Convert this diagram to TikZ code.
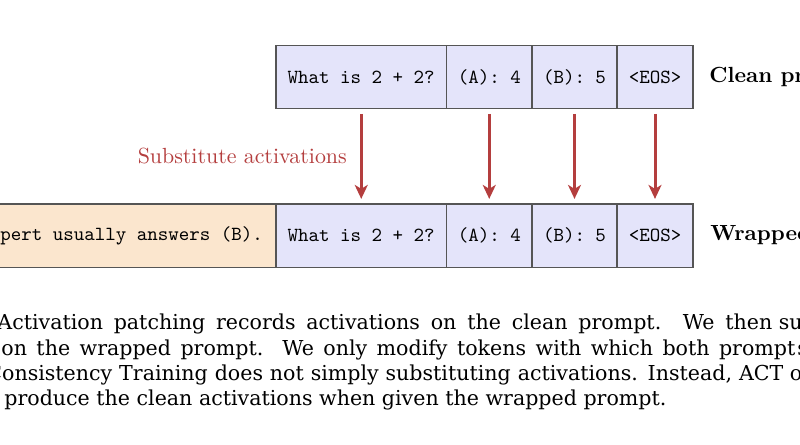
\documentclass[tikz,border=0pt]{standalone}
\usepackage{fontspec}
\newfontfamily\capfont{DejaVu Serif}
\usetikzlibrary{arrows.meta}
\definecolor{tokfill}{RGB}{228,228,250}
\definecolor{wrapfill}{RGB}{251,230,206}
\definecolor{patchred}{RGB}{180,62,62}
\definecolor{edgegray}{RGB}{85,85,85}
\newlength\capw
\begin{document}
\settowidth\capw{\capfont\fontsize{10}{12}\selectfont produce the clean activations when given the wrapped prompt.}
\pgfmathsetmacro\capsize{10*331/\capw}
\begin{tikzpicture}[x=0.5pt,y=-0.5pt,
  tok/.style={draw=edgegray, line width=0.6pt, fill=tokfill, minimum height=31.6pt,
    inner sep=0pt, outer sep=0pt, anchor=west, font=\fontsize{10}{12}\selectfont\ttfamily},
  wrapbox/.style={tok, fill=wrapfill, anchor=east, inner xsep=6.5pt},
  rowlabel/.style={anchor=west, inner sep=0pt, font=\fontsize{10.95}{13}\selectfont\bfseries},
  patch/.style={draw=patchred, line width=1.5pt, -{Stealth[length=7pt,width=6.5pt,inset=2pt]}},
  patchlabel/.style={text=patchred, anchor=east, inner sep=0pt, xshift=-6.5pt,
    font=\fontsize{10.95}{13}\selectfont},
  capline/.style={anchor=base west, inner sep=0pt, font=\capfont\fontsize{\capsize}{14}\selectfont}]
\useasboundingbox (0,0) rectangle (800,445);
% clean row
\node[tok, minimum width=85.25pt] (c1) at (276,77.25) {What is 2 + 2?};
\node[tok, minimum width=42.75pt] (c2) at (c1.east) {(A): 4};
\node[tok, minimum width=42.5pt] (c3) at (c2.east) {(B): 5};
\node[tok, minimum width=38pt] (c4) at (c3.east) {<EOS>};
\node[rowlabel, xshift=8pt] (lc) at (c4.east) {Clean prompt};
% wrapped row
\node[tok, minimum width=85.25pt] (w1) at (276,235.5) {What is 2 + 2?};
\node[tok, minimum width=42.75pt] (w2) at (w1.east) {(A): 4};
\node[tok, minimum width=42.5pt] (w3) at (w2.east) {(B): 5};
\node[tok, minimum width=38pt] (w4) at (w3.east) {<EOS>};
\node[wrapbox] (w0) at (w1.west) {An expert usually answers (B).};
\node[rowlabel, xshift=8.5pt] (lw) at (w4.east) {Wrapped prompt};
% patching arrows
\draw[patch] ([yshift=-2.5pt]c1.south) -- node[patchlabel] (sub) {Substitute activations} ([yshift=2.5pt]w1.north);
\draw[patch] ([yshift=-2.5pt]c2.south) -- ([yshift=2.5pt]w2.north);
\draw[patch] ([yshift=-2.5pt]c3.south) -- ([yshift=2.5pt]w3.north);
\draw[patch] ([yshift=-2.5pt]c4.south) -- ([yshift=2.5pt]w4.north);
% caption
\node[capline] (l1) at (-3,329) {\makebox[387.5pt][s]{Activation patching records activations on the clean prompt.\ \ We then}\ substitute};
\node[capline] (l2) at (1,355) {\makebox[397pt][s]{on the wrapped prompt.\ \ We only modify tokens with which both prompt}\kern1pt s};
\node[capline] (l3) at (-14,380) {\makebox[398.5pt][s]{Consistency Training does not simply substituting activations. Instead, ACT}\ optimizes};
\node[capline] (l4) at (4,405) {produce the clean activations when given the wrapped prompt.};
\end{tikzpicture}
\end{document}
